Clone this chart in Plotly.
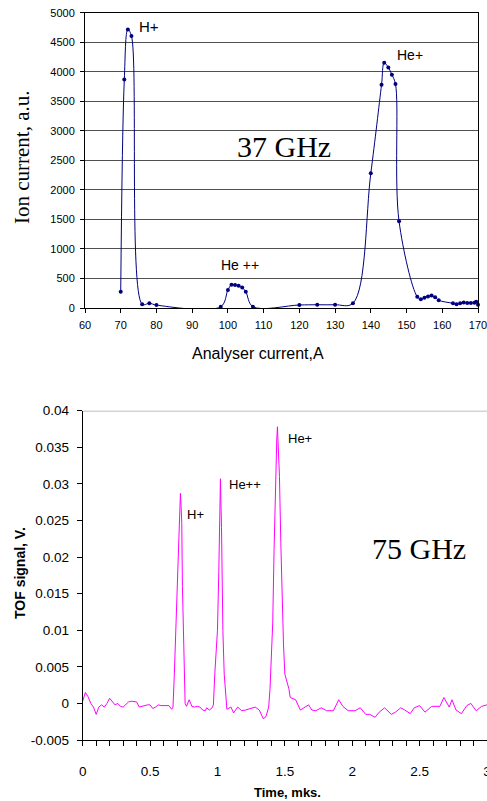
import plotly.graph_objects as go

# ---- Top chart (37 GHz): analyser scan ----
analyser_current = [70, 71, 72, 73, 76, 78, 80, 98, 100, 101, 102, 103, 104, 105, 107,
                    120, 125, 130, 135, 140, 143, 143.75, 144.9, 145.9, 146.9, 147.9,
                    153, 154, 155, 156, 157, 158, 159, 163, 164, 165, 166, 167, 168, 169, 169.5, 170]
ion_current = [276, 3870, 4715, 4605, 63, 80, 50, 22, 305, 395, 390, 375, 345, 276, 22,
               51, 55, 55, 80, 2283, 3780, 4153, 4073, 3950, 3792, 1469,
               190, 150, 175, 195, 210, 180, 130, 80, 65, 80, 95, 85, 85, 90, 105, 55]
top_x_ticks = [60, 70, 80, 90, 100, 110, 120, 130, 140, 150, 160, 170]
top_y_ticks = [0, 500, 1000, 1500, 2000, 2500, 3000, 3500, 4000, 4500, 5000]

# ---- Bottom chart (75 GHz): TOF signal ----
tof_time = [0.00, 0.02, 0.04, 0.06, 0.08, 0.10, 0.12, 0.14, 0.16, 0.18, 0.20, 0.22, 0.24, 0.26,
            0.28, 0.30, 0.32, 0.34, 0.36, 0.38, 0.40, 0.42, 0.44, 0.46, 0.48, 0.50, 0.52, 0.54,
            0.56, 0.58, 0.60, 0.62, 0.64, 0.66, 0.67, 0.68, 0.69, 0.70, 0.71, 0.72, 0.725, 0.73,
            0.735, 0.74, 0.75, 0.76, 0.77, 0.79, 0.81, 0.83, 0.85, 0.87, 0.89, 0.91, 0.92, 0.94,
            0.96, 0.97, 0.98, 0.99, 1.00, 1.01, 1.02, 1.022, 1.03, 1.035, 1.04, 1.05, 1.06, 1.07,
            1.10, 1.12, 1.15, 1.18, 1.21, 1.24, 1.28, 1.31, 1.34, 1.36, 1.38, 1.39, 1.40, 1.41,
            1.42, 1.43, 1.44, 1.445, 1.45, 1.46, 1.47, 1.48, 1.49, 1.50, 1.51, 1.52, 1.53, 1.54,
            1.55, 1.58, 1.615, 1.645, 1.676, 1.70, 1.73, 1.77, 1.81, 1.86, 1.90, 1.93, 1.97, 2.02,
            2.06, 2.10, 2.13, 2.17, 2.20, 2.24, 2.29, 2.32, 2.36, 2.39, 2.43, 2.46, 2.50, 2.54,
            2.59, 2.65, 2.68, 2.72, 2.74, 2.77, 2.81, 2.85, 2.88, 2.92, 2.96, 3.00]
tof_signal = [0.0003, 0.0015, 0.0009, 0.0000, -0.0005, -0.0015, -0.0005, -0.0002, -0.0005, 0.0000,
              0.0007, 0.0003, -0.0002, 0.0000, -0.0004, -0.0005, -0.0001, 0.0002, 0.0003, 0.0002,
              0.0002, -0.0005, -0.0004, -0.0002, -0.0002, -0.0002, -0.0007, -0.0005, -0.0002,
              -0.0003, -0.0003, -0.0003, -0.0003, -0.0008, -0.0005, 0.004, 0.010, 0.017, 0.023,
              0.0275, 0.0287, 0.027, 0.0246, 0.016, 0.007, 0.0000, -0.0004, 0.0005, -0.0004,
              -0.0005, -0.0004, -0.0005, -0.0009, -0.0010, -0.0006, -0.0009, -0.0006, -0.0002,
              0.004, 0.007, 0.010, 0.018, 0.029, 0.0307, 0.024, 0.015, 0.010, 0.004, 0.001, -0.0008,
              -0.0005, -0.0013, -0.0005, -0.0010, -0.0009, -0.0007, -0.0005, -0.0009, -0.0021,
              -0.0018, -0.0005, 0.002, 0.006, 0.011, 0.021, 0.030, 0.036, 0.0378, 0.036, 0.031,
              0.022, 0.013, 0.008, 0.004, 0.0033, 0.0028, 0.0020, 0.0008, 0.0007, 0.0005, -0.0009,
              -0.0006, -0.0002, -0.0009, -0.0010, -0.0006, -0.0010, -0.0010, 0.0005, -0.0004,
              -0.0010, -0.0010, -0.0006, -0.0015, -0.0015, -0.0019, -0.0012, -0.0006, -0.0015,
              -0.0012, -0.0006, -0.0009, -0.0014, -0.0006, -0.0003, -0.0012, -0.0004, -0.0004,
              0.0008, -0.0005, 0.0005, -0.0009, -0.0014, -0.0003, 0.0000, -0.0010, -0.0004, -0.0002]
bot_x_ticks = [0, 0.5, 1, 1.5, 2, 2.5, 3]
bot_x_labels = ["0", "0.5", "1", "1.5", "2", "2.5", "3"]
bot_y_ticks = [-0.005, 0, 0.005, 0.01, 0.015, 0.02, 0.025, 0.03, 0.035, 0.04]
bot_y_labels = ["-0.005", "0", "0.005", "0.01", "0.015", "0.02", "0.025", "0.03", "0.035", "0.04"]

W, H = 487, 801
SANS = "Liberation Sans, Arial, sans-serif"
SERIF = "Liberation Serif, Times New Roman, serif"

def px_x(p):
    return p / W

def px_y(p):
    return 1 - p / H

fig = go.Figure()

fig.add_trace(go.Scatter(
    x=analyser_current, y=ion_current, mode="lines+markers",
    line=dict(color="#000080", width=1, shape="spline", smoothing=1.0),
    marker=dict(color="#000080", size=4), xaxis="x", yaxis="y",
    cliponaxis=False, showlegend=False))

fig.add_trace(go.Scatter(
    x=tof_time, y=tof_signal, mode="lines",
    line=dict(color="#FF00FF", width=1), xaxis="x2", yaxis="y2",
    showlegend=False))

fig.update_layout(
    width=W, height=H, autosize=False,
    margin=dict(l=0, r=0, t=0, b=0, autoexpand=False),
    paper_bgcolor="white", plot_bgcolor="white",
    xaxis=dict(domain=[px_x(85), px_x(478)], range=[60, 170], tickvals=top_x_ticks,
               showgrid=False, zeroline=False, showline=True, mirror=True,
               linecolor="black", linewidth=1, ticks="outside", ticklen=4,
               tickcolor="black", tickfont=dict(family=SANS, size=11, color="black"),
               ticklabeloverflow="allow", ticklabelstandoff=3, automargin=False, anchor="y"),
    yaxis=dict(domain=[px_y(308), px_y(12.7)], range=[0, 5000], tickvals=top_y_ticks,
               showgrid=True, gridcolor="#505050", gridwidth=1, zeroline=False,
               showline=True, mirror=True, linecolor="black", linewidth=1,
               ticks="outside", ticklen=4, tickcolor="black", ticklabelstandoff=3,
               automargin=False,
               tickfont=dict(family=SANS, size=11, color="black"), anchor="x"),
    xaxis2=dict(domain=[px_x(82.7), 1.0], range=[0, 3], tickvals=bot_x_ticks,
                ticktext=bot_x_labels, showgrid=False, zeroline=False, showline=True,
                linecolor="black", linewidth=1, ticks="outside", ticklen=5,
                tickcolor="black", minor=dict(dtick=0.1, ticks="outside", ticklen=5,
                                              tickcolor="black", showgrid=False),
                ticklabeloverflow="allow", ticklabelstandoff=14, automargin=False,
                tickfont=dict(family=SANS, size=13.5, color="black"), anchor="y2"),
    yaxis2=dict(domain=[px_y(740), px_y(410.7)], range=[-0.005, 0.04], tickvals=bot_y_ticks,
                ticktext=bot_y_labels, showgrid=False, zeroline=False, showline=True,
                linecolor="black", linewidth=1, ticks="outside", ticklen=5,
                tickcolor="black", ticklabelstandoff=5, automargin=False,
                tickfont=dict(family=SANS, size=13.5, color="black"),
                anchor="x2"),
)

# gray top border of the lower chart
fig.add_shape(type="line", xref="x2", yref="y2", x0=0, x1=3, y0=0.04, y1=0.04,
              line=dict(color="#a8a8a8", width=1.5))

ann = []
# axis titles
ann.append(dict(text="Analyser current,A", x=px_x(258), y=px_y(353), xref="paper", yref="paper",
                showarrow=False, font=dict(family=SANS, size=16, color="black"),
                xanchor="center", yanchor="middle"))
ann.append(dict(text="Ion current, a.u.", x=px_x(22), y=px_y(157), xref="paper", yref="paper",
                showarrow=False, textangle=-90, font=dict(family=SERIF, size=21, color="black"),
                xanchor="center", yanchor="middle"))
ann.append(dict(text="<b>Time, mks.</b>", x=px_x(287), y=px_y(792), xref="paper", yref="paper",
                showarrow=False, font=dict(family=SANS, size=13, color="black"),
                xanchor="center", yanchor="middle"))
ann.append(dict(text="<b>TOF signal, V.</b>", x=px_x(20), y=px_y(573), xref="paper", yref="paper",
                showarrow=False, textangle=-90, font=dict(family=SANS, size=14, color="black"),
                xanchor="center", yanchor="middle"))
# big frequency labels
ann.append(dict(text="37 GHz", x=px_x(284), y=px_y(146), xref="paper", yref="paper",
                showarrow=False, font=dict(family=SERIF, size=30, color="black"),
                xanchor="center", yanchor="middle"))
ann.append(dict(text="75 GHz", x=px_x(419), y=px_y(548), xref="paper", yref="paper",
                showarrow=False, font=dict(family=SERIF, size=30, color="black"),
                xanchor="center", yanchor="middle"))
# peak labels
for txt, xp, yp, sz in [("H+", 149, 27, 15), ("He+", 410, 55, 14), ("He ++", 240, 265, 14),
                        ("H+", 195, 514, 13), ("He++", 245, 484, 13), ("He+", 300, 438, 13)]:
    ann.append(dict(text=txt, x=px_x(xp), y=px_y(yp), xref="paper", yref="paper",
                    showarrow=False, font=dict(family=SANS, size=sz, color="black"),
                    xanchor="center", yanchor="middle"))
fig.update_layout(annotations=ann)

fig.write_html("out.html")
